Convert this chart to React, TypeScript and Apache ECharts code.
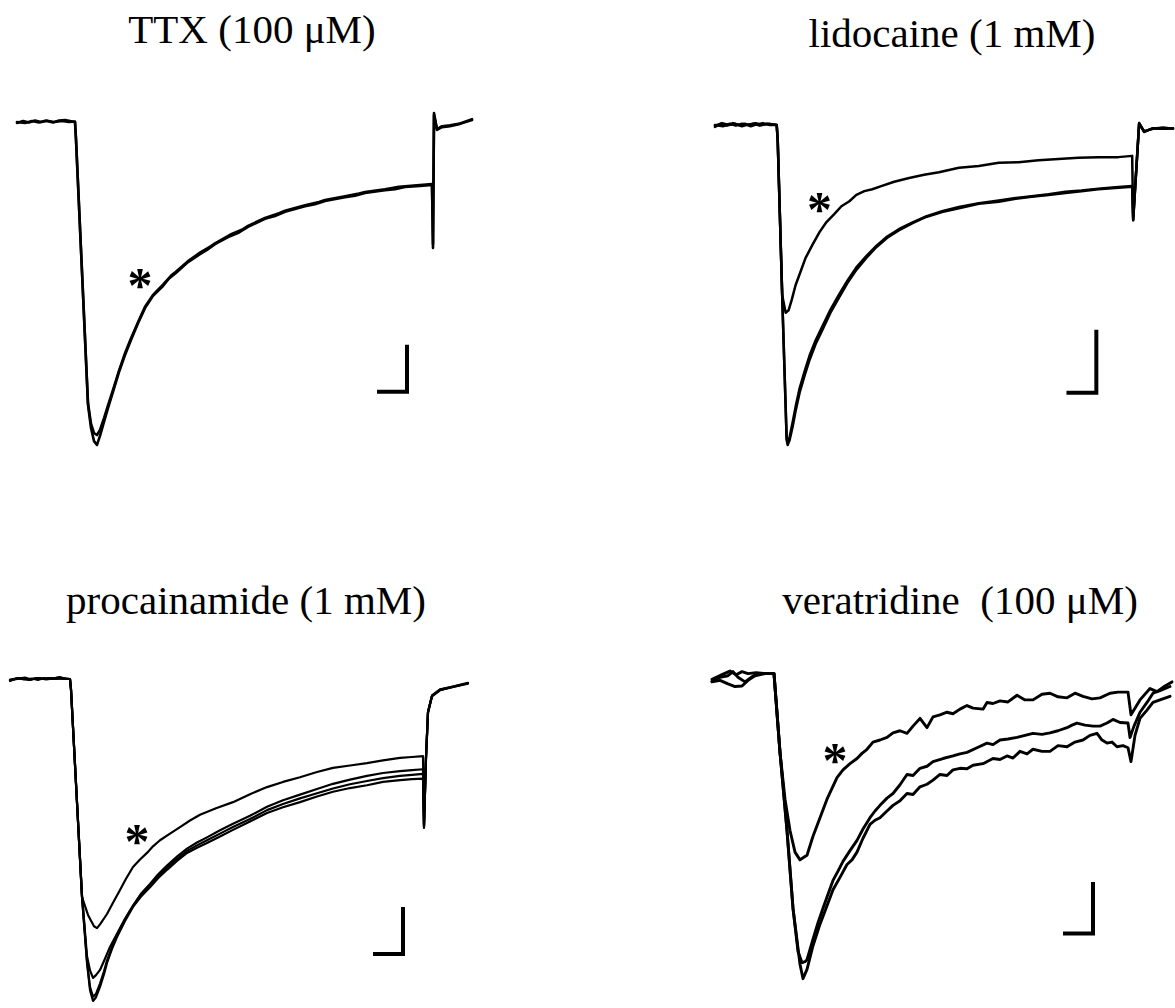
import React, { useEffect, useRef } from "react";
import * as echarts from "echarts";

// Whole-cell Na+ current traces, time in ms from the step onset, current in nA.
const TITLES = ["TTX (100 μM)", "lidocaine (1 mM)", "procainamide (1 mM)", "veratridine  (100 μM)"];

// TTX (100 µM): control and drug traces overlap
const TTX_CONTROL: number[][] = [
  [-5.8, -0.02], [-5.2, 0.02], [-4.6, -0.01], [-4.0, 0.03], [-3.4, 0.0], [-2.8, 0.02], [-2.2, -0.01], [-1.6, 0.03], [-1.0, 0.04], [-0.5, 0.02], [0.0, 0.0],
  [0.1, -0.38], [1.3, -6.02], [1.6, -6.51], [1.9, -6.79], [2.2, -6.87],
  [2.5, -6.68], [2.9, -6.38], [3.3, -6.09], [3.8, -5.74], [4.4, -5.32], [5.0, -4.96], [5.6, -4.64], [6.3, -4.28], [7.0, -3.96], [7.8, -3.70],
  [8.8, -3.49], [9.4, -3.33], [10.0, -3.23], [11.3, -2.98], [12.5, -2.81], [13.2, -2.72], [14.0, -2.60], [15.5, -2.43], [16.4, -2.35], [17.3, -2.23],
  [19.0, -2.06], [20.0, -2.00], [21.0, -1.91], [23.0, -1.79], [24.0, -1.75], [25.0, -1.68], [27.0, -1.60], [28.0, -1.57], [29.0, -1.51], [31.0, -1.45],
  [32.0, -1.43], [33.0, -1.38], [34.5, -1.36], [35.7, -1.34],
  [35.8, -2.68], [35.9, 0.19], [36.2, -0.17], [36.7, -0.11], [37.5, -0.09], [38.5, -0.04], [39.7, 0.04],
];
const TTX_DRUG: number[][] = [
  [-5.8, 0.0], [-5.0, -0.02], [-4.3, 0.02], [-3.6, -0.01], [-2.9, 0.03], [-2.1, 0.0], [-1.3, 0.02], [-0.6, 0.0], [0.0, 0.01],
  [0.1, -0.36], [1.3, -5.98], [1.6, -6.42], [1.9, -6.62], [2.2, -6.66],
  [2.5, -6.55], [2.9, -6.30], [3.3, -6.03], [3.8, -5.70], [4.4, -5.29], [5.0, -4.92], [5.6, -4.60], [6.3, -4.26], [7.0, -3.93], [7.8, -3.68],
  [8.8, -3.46], [9.7, -3.25], [10.0, -3.20], [11.3, -2.96], [12.5, -2.78], [13.6, -2.64], [14.0, -2.58], [15.5, -2.40], [16.8, -2.28], [17.3, -2.21],
  [19.0, -2.04], [20.4, -1.94], [21.0, -1.89], [23.0, -1.77], [24.4, -1.70], [25.0, -1.66], [27.0, -1.58], [28.4, -1.52], [29.0, -1.49], [31.0, -1.43],
  [32.4, -1.38], [33.0, -1.37], [34.5, -1.34], [35.7, -1.32],
  [35.8, -2.60], [35.9, 0.15], [36.2, -0.15], [36.7, -0.09], [37.5, -0.07], [38.5, -0.03], [39.7, 0.06],
];

// lidocaine (1 mM): two control traces and the blocked trace
const LIDO_CONTROL_A: number[][] = [
  [-6.2, -0.03], [-5.6, 0.02], [-5.0, -0.01], [-4.4, 0.03], [-3.8, 0.0], [-3.2, 0.02], [-2.6, -0.02], [-2.0, 0.01], [-1.4, 0.03], [-0.7, 0.0], [0.0, 0.0],
  [0.1, -0.24], [0.6, -2.98], [1.0, -5.0], [1.1, -5.08],
  [1.3, -5.0], [1.6, -4.79], [1.9, -4.54], [2.3, -4.25], [2.8, -3.98], [3.3, -3.73], [3.9, -3.48], [4.6, -3.25], [5.4, -2.98], [6.3, -2.73],
  [7.1, -2.51], [8.0, -2.30], [9.0, -2.11], [10.0, -1.94], [11.1, -1.79], [12.3, -1.67], [13.6, -1.56], [15.0, -1.46], [16.6, -1.38], [18.3, -1.32],
  [20.3, -1.25], [22.3, -1.22], [24.0, -1.17], [25.6, -1.14], [27.3, -1.11], [29.0, -1.08], [30.6, -1.05], [32.3, -1.02], [34.0, -1.00], [35.7, -0.98],
  [35.8, -1.51], [36.4, 0.03], [36.9, -0.11], [37.8, -0.05], [38.8, -0.06], [39.8, -0.05],
];
const LIDO_CONTROL_B: number[][] = [
  [-6.2, 0.0], [-5.4, -0.02], [-4.7, 0.02], [-4.1, -0.01], [-3.5, 0.02], [-2.9, 0.0], [-2.3, 0.02], [-1.7, -0.01], [-1.0, 0.02], [-0.4, 0.01], [0.0, 0.0],
  [0.1, -0.22], [0.6, -2.95], [1.0, -4.97], [1.1, -5.04],
  [1.3, -4.95], [1.6, -4.72], [1.9, -4.47], [2.3, -4.18], [2.8, -3.91], [3.3, -3.66], [3.9, -3.42], [4.6, -3.19], [5.4, -2.93], [6.3, -2.68],
  [7.1, -2.47], [8.0, -2.26], [9.0, -2.08], [10.0, -1.92], [11.1, -1.77], [12.3, -1.65], [13.6, -1.55], [15.0, -1.45], [16.6, -1.37], [18.3, -1.30],
  [20.3, -1.24], [22.3, -1.20], [24.0, -1.16], [25.6, -1.13], [27.3, -1.10], [29.0, -1.06], [30.6, -1.04], [32.3, -1.01], [34.0, -0.99], [35.7, -0.97],
  [35.8, -1.48], [36.4, 0.02], [36.9, -0.10], [37.8, -0.06], [38.8, -0.04], [39.8, -0.06],
];
const LIDO_DRUG: number[][] = [
  [-6.2, -0.01], [-5.5, 0.03], [-4.8, 0.0], [-4.2, 0.02], [-3.5, -0.02], [-2.8, 0.01], [-2.1, 0.03], [-1.5, 0.0], [-0.8, 0.02], [0.0, 0.0],
  [0.1, -0.24], [0.55, -2.7], [0.9, -2.98], [1.2, -2.94],
  [1.5, -2.78], [1.9, -2.54], [2.3, -2.37], [2.9, -2.11], [3.6, -1.90], [4.3, -1.70], [5.0, -1.54], [5.8, -1.41], [6.5, -1.29], [7.3, -1.21],
  [8.0, -1.11], [8.8, -1.05], [9.6, -1.02], [10.5, -0.97], [11.8, -0.90], [13.3, -0.84], [14.8, -0.79], [16.3, -0.75], [18.3, -0.68], [20.3, -0.65],
  [22.3, -0.60], [24.3, -0.59], [26.3, -0.56], [28.3, -0.54], [30.3, -0.52], [32.3, -0.51], [34.3, -0.51], [35.7, -0.49],
  [35.8, -1.51], [36.4, 0.03], [36.9, -0.11], [37.8, -0.05], [38.8, -0.06], [39.8, -0.05],
];

// procainamide (1 mM): three control traces and the blocked trace
const PROC_CONTROL_A: number[][] = [
  [-6.0, -0.04], [-5.4, 0.01], [-5.0, 0.02], [-4.4, -0.01], [-4.0, -0.02], [-3.4, 0.02], [-3.0, 0.02], [-2.4, -0.01], [-2.0, 0.0], [-1.0, 0.04], [-0.4, 0.0], [0.0, 0.0],
  [0.1, -0.23], [1.2, -4.64], [1.7, -6.04], [2.0, -6.62], [2.3, -6.85],
  [2.6, -6.77], [3.0, -6.55], [3.4, -6.28], [3.7, -6.04], [4.2, -5.74], [4.7, -5.49], [5.5, -5.15], [6.3, -4.85], [7.1, -4.63], [8.0, -4.43],
  [8.8, -4.24], [9.7, -4.06], [10.7, -3.87], [11.7, -3.70], [12.7, -3.59], [13.7, -3.49], [15.0, -3.35], [16.3, -3.21], [18.0, -3.03], [19.7, -2.85],
  [21.3, -2.73], [23.0, -2.62], [24.7, -2.50], [26.3, -2.40], [28.0, -2.32], [29.7, -2.26], [31.3, -2.19], [33.0, -2.15], [34.2, -2.13], [35.3, -2.12],
  [35.4, -3.17], [35.6, -1.70], [35.8, -0.72], [36.2, -0.36], [37.0, -0.23], [38.3, -0.17], [39.8, -0.09],
];
const PROC_CONTROL_B: number[][] = [
  [-6.0, -0.02], [-5.2, 0.02], [-4.6, -0.01], [-3.8, 0.01], [-3.2, -0.02], [-2.6, 0.02], [-1.8, 0.0], [-1.2, 0.03], [-0.5, 0.01], [0.0, 0.0],
  [0.1, -0.22], [1.2, -4.62], [1.7, -6.0], [2.0, -6.55], [2.3, -6.76],
  [2.6, -6.70], [3.0, -6.48], [3.4, -6.22], [3.7, -5.99], [4.2, -5.70], [4.7, -5.44], [5.5, -5.12], [6.3, -4.83], [7.1, -4.58], [8.0, -4.38],
  [8.8, -4.20], [9.7, -4.01], [10.7, -3.83], [11.7, -3.66], [12.7, -3.54], [13.7, -3.43], [15.0, -3.29], [16.3, -3.15], [18.0, -2.98], [19.7, -2.79],
  [21.3, -2.66], [23.0, -2.54], [24.7, -2.43], [26.3, -2.33], [28.0, -2.24], [29.7, -2.17], [31.3, -2.11], [33.0, -2.06], [34.2, -2.04], [35.3, -2.02],
  [35.4, -3.15], [35.6, -1.68], [35.8, -0.70], [36.2, -0.35], [37.0, -0.22], [38.3, -0.16], [39.8, -0.08],
];
const PROC_CONTROL_C: number[][] = [
  [-6.0, -0.03], [-5.3, 0.0], [-4.7, 0.02], [-4.1, -0.02], [-3.5, 0.01], [-2.7, 0.0], [-2.1, 0.02], [-1.4, 0.0], [-0.7, 0.02], [0.0, 0.0],
  [0.1, -0.22], [1.2, -4.6], [1.7, -5.9], [2.0, -6.2], [2.3, -6.36],
  [2.6, -6.30], [3.0, -6.19], [3.4, -6.00], [4.0, -5.70], [4.7, -5.42], [5.5, -5.10], [6.3, -4.82], [7.1, -4.57], [8.0, -4.36],
  [8.8, -4.16], [9.7, -3.97], [10.7, -3.78], [11.7, -3.61], [12.7, -3.48], [13.7, -3.37], [15.0, -3.22], [16.3, -3.08], [18.0, -2.91], [19.7, -2.72],
  [21.3, -2.58], [23.0, -2.46], [24.7, -2.34], [26.3, -2.23], [28.0, -2.14], [29.7, -2.06], [31.3, -2.00], [33.0, -1.96], [34.2, -1.94], [35.3, -1.92],
  [35.4, -3.12], [35.6, -1.66], [35.8, -0.70], [36.2, -0.37], [37.0, -0.24], [38.3, -0.17], [39.8, -0.10],
];
const PROC_DRUG: number[][] = [
  [-6.0, -0.02], [-5.2, 0.01], [-4.5, 0.03], [-3.9, -0.01], [-3.1, 0.02], [-2.5, 0.0], [-1.9, 0.02], [-1.1, 0.01], [-0.5, 0.0], [0.0, 0.0],
  [0.1, -0.22], [1.2, -4.64], [1.8, -5.02], [2.4, -5.26], [2.7, -5.30],
  [3.0, -5.22], [3.7, -5.00], [4.3, -4.76], [5.0, -4.49], [5.6, -4.25], [6.3, -4.00], [7.0, -3.84], [7.7, -3.70], [8.3, -3.56], [9.0, -3.43],
  [10.0, -3.29], [11.0, -3.15], [12.0, -3.01], [13.0, -2.89], [14.6, -2.75], [16.3, -2.62], [18.0, -2.45], [19.7, -2.30], [21.3, -2.19], [23.0, -2.09],
  [24.7, -1.98], [26.3, -1.89], [28.0, -1.84], [29.7, -1.79], [31.3, -1.73], [33.0, -1.68], [34.2, -1.66], [35.3, -1.64],
  [35.4, -3.10], [35.6, -1.66], [35.8, -0.70], [36.2, -0.36], [37.0, -0.23], [38.3, -0.16], [39.8, -0.09],
];

// veratridine (100 µM): two control traces and the drug trace
const VERA_CONTROL_A: number[][] = [
  [-6.2, -0.15], [-5.4, -0.07], [-4.6, -0.04], [-4.1, 0.04], [-3.6, -0.07], [-2.9, -0.16], [-2.4, -0.09], [-1.9, -0.02], [-1.2, 0.0], [-0.4, 0.0], [0.0, 0.0],
  [0.6, -1.53], [1.3, -3.05], [1.9, -4.56], [2.6, -5.65], [2.9, -5.93],
  [3.3, -5.75], [3.9, -5.29], [4.6, -4.87], [5.3, -4.51], [5.9, -4.20], [6.6, -3.96], [7.3, -3.71], [7.8, -3.62], [8.3, -3.47], [8.9, -3.20],
  [9.6, -2.93], [10.1, -2.85], [10.6, -2.80], [11.3, -2.67], [11.9, -2.56], [12.6, -2.47], [13.3, -2.33], [13.9, -2.35], [14.6, -2.20], [15.3, -2.15],
  [15.9, -2.07], [16.6, -1.96], [17.3, -1.98], [17.9, -1.87], [18.6, -1.84], [19.3, -1.85], [19.9, -1.78], [20.9, -1.75], [21.9, -1.65], [22.6, -1.67],
  [23.3, -1.60], [23.9, -1.64], [24.6, -1.51], [25.3, -1.56], [25.9, -1.47], [26.8, -1.51], [27.6, -1.51], [28.4, -1.40], [29.3, -1.42], [30.1, -1.33],
  [30.9, -1.29], [31.6, -1.20], [32.3, -1.16], [32.8, -1.29], [33.3, -1.35], [33.8, -1.33], [34.3, -1.42], [34.9, -1.40], [35.4, -1.44],
  [35.7, -1.71], [36.1, -1.20], [36.6, -0.87], [37.3, -0.71], [37.9, -0.56], [38.6, -0.51], [39.6, -0.44],
];
const VERA_CONTROL_B: number[][] = [
  [-6.2, -0.11], [-5.2, -0.02], [-4.4, 0.05], [-3.8, -0.02], [-3.2, 0.04], [-2.6, 0.0], [-1.8, 0.02], [-0.9, 0.0], [0.0, 0.0],
  [0.6, -1.53], [1.3, -3.05], [1.9, -4.56], [2.4, -5.40], [2.8, -5.62], [3.1, -5.60],
  [3.3, -5.56], [3.9, -5.16], [4.4, -4.84], [4.9, -4.56], [5.4, -4.29], [5.9, -4.02], [6.4, -3.84], [6.9, -3.65], [7.6, -3.44], [8.3, -3.24],
  [8.9, -3.02], [9.6, -2.80], [10.1, -2.67], [10.6, -2.56], [11.3, -2.42], [11.9, -2.33], [12.6, -2.16], [13.3, -1.96], [13.9, -1.98], [14.6, -1.84],
  [15.3, -1.80], [15.9, -1.71], [16.9, -1.65], [17.9, -1.60], [18.6, -1.56], [19.3, -1.53], [20.3, -1.44], [21.3, -1.35], [21.9, -1.38], [22.6, -1.29],
  [23.4, -1.27], [24.3, -1.24], [25.1, -1.20], [25.9, -1.16], [26.8, -1.18], [27.6, -1.15], [28.4, -1.11], [29.3, -1.05], [29.8, -1.00], [30.3, -0.96],
  [31.1, -1.00], [31.9, -1.02], [32.6, -1.02], [33.3, -0.96], [33.9, -0.89], [34.6, -0.95], [35.4, -0.96],
  [35.6, -1.24], [36.0, -1.02], [36.6, -0.75], [37.3, -0.56], [37.9, -0.38], [38.6, -0.33], [39.6, -0.25],
];
const VERA_DRUG: number[][] = [
  [-6.2, -0.16], [-5.4, -0.13], [-4.6, -0.20], [-3.9, -0.25], [-3.2, -0.24], [-2.6, -0.13], [-1.9, -0.04], [-0.9, 0.0], [0.0, 0.0],
  [0.6, -1.53], [1.1, -2.44], [1.6, -3.05], [2.1, -3.47], [2.6, -3.62], [2.9, -3.58],
  [3.3, -3.53], [3.9, -3.16], [4.6, -2.80], [5.3, -2.44], [6.3, -2.02], [6.9, -1.87], [7.6, -1.75], [8.3, -1.65], [8.8, -1.55], [9.3, -1.47],
  [9.9, -1.33], [10.6, -1.29], [11.3, -1.24], [11.9, -1.15], [12.6, -1.11], [13.3, -1.16], [13.9, -1.02], [14.6, -0.87], [15.3, -1.05], [15.9, -0.84],
  [16.6, -0.80], [17.3, -0.75], [17.9, -0.78], [18.6, -0.69], [19.3, -0.62], [19.9, -0.67], [20.9, -0.69], [21.3, -0.56], [21.9, -0.58], [22.6, -0.53],
  [23.4, -0.55], [24.3, -0.42], [25.1, -0.51], [25.9, -0.51], [26.8, -0.40], [27.6, -0.38], [28.4, -0.45], [29.3, -0.47], [30.1, -0.38], [30.9, -0.44],
  [31.8, -0.49], [32.6, -0.47], [33.6, -0.38], [34.4, -0.36], [35.4, -0.36],
  [35.7, -0.80], [36.6, -0.51], [37.6, -0.29], [38.3, -0.35], [39.1, -0.24], [39.8, -0.16],
];

// Calibration bars, ms and nA
const SCALE_BAR_MS = [3, 3, 3, 3];
const SCALE_BAR_NA = [1, 1, 1, 1];

const PANEL_TRACES = [
  [TTX_CONTROL, TTX_DRUG],
  [LIDO_CONTROL_A, LIDO_CONTROL_B, LIDO_DRUG],
  [PROC_CONTROL_A, PROC_CONTROL_B, PROC_CONTROL_C, PROC_DRUG],
  [VERA_CONTROL_A, VERA_CONTROL_B, VERA_DRUG],
];

// Panel layout: plotting box (px), axis ranges, calibration-bar corner and asterisk spot
const LAYOUT = [
  { grid: { left: 5, top: 51.5, width: 480, height: 423 }, x: [-7, 41], y: [-7.5, 1.5], bar: [33.2, -5.74], star: [6.5, -3.28], title: [252, 8], lw: 2.6 },
  { grid: { left: 707, top: 30.5, width: 470, height: 472.5 }, x: [-7, 40], y: [-6, 1.5], bar: [32.1, -4.25], star: [4.3, -1.19], title: [952, 12], lw: 2.5 },
  { grid: { left: 0, top: 608.5, width: 480, height: 399.5 }, x: [-7, 41], y: [-7, 1.5], bar: [33.3, -5.85], star: [6.7, -3.26], title: [246, 579], lw: 2.2 },
  { grid: { left: 704, top: 596.5, width: 470, height: 440 }, x: [-7, 40], y: [-6.5, 1.5], bar: [31.9, -5.05], star: [6.1, -1.51], title: [960, 579], lw: 2.9 },
];

const INK = "#000";
const SERIF = '"Liberation Serif", "Times New Roman", serif';

function buildOption() {
  const grid: any[] = [];
  const xAxis: any[] = [];
  const yAxis: any[] = [];
  const series: any[] = [];
  const graphic: any[] = [];

  LAYOUT.forEach((p, i) => {
    grid.push({ ...p.grid, containLabel: false });
    xAxis.push({ type: "value", gridIndex: i, min: p.x[0], max: p.x[1], show: false });
    yAxis.push({ type: "value", gridIndex: i, min: p.y[0], max: p.y[1], show: false });

    PANEL_TRACES[i].forEach((trace) => {
      series.push({
        type: "line",
        xAxisIndex: i,
        yAxisIndex: i,
        data: trace,
        showSymbol: false,
        symbol: "none",
        clip: false,
        silent: true,
        lineStyle: { color: INK, width: p.lw, join: "round", cap: "round" },
      });
    });

    const [bx, by] = p.bar;
    series.push({
      type: "line",
      xAxisIndex: i,
      yAxisIndex: i,
      data: [
        [bx - SCALE_BAR_MS[i], by],
        [bx, by],
        [bx, by + SCALE_BAR_NA[i]],
      ],
      showSymbol: false,
      symbol: "none",
      clip: false,
      silent: true,
      lineStyle: { color: INK, width: 4, join: "miter", cap: "butt" },
    });

    series.push({
      type: "scatter",
      xAxisIndex: i,
      yAxisIndex: i,
      data: [p.star],
      symbolSize: 1,
      silent: true,
      itemStyle: { color: "transparent" },
      label: {
        show: true,
        position: "inside",
        formatter: "*",
        color: INK,
        opacity: 1,
        fontFamily: SERIF,
        fontWeight: "bold",
        fontSize: 50,
        offset: [0, 9],
      },
    });

    graphic.push({
      type: "text",
      x: p.title[0],
      y: p.title[1],
      silent: true,
      style: {
        text: TITLES[i],
        fill: INK,
        font: `41px ${SERIF}`,
        textAlign: "center",
        textVerticalAlign: "top",
        align: "center",
        verticalAlign: "top",
      },
    });
  });

  return {
    animation: false,
    backgroundColor: "#fff",
    grid,
    xAxis,
    yAxis,
    series,
    graphic,
  };
}

export default function App() {
  const ref = useRef<HTMLDivElement>(null);

  useEffect(() => {
    if (!ref.current) return;
    const chart = echarts.init(ref.current, undefined, { renderer: "svg" });
    chart.setOption(buildOption());
    return () => chart.dispose();
  }, []);

  return (
    <div
      ref={ref}
      style={{ position: "fixed", left: 0, top: 0, width: 1175, height: 1008, background: "#fff" }}
    />
  );
}
